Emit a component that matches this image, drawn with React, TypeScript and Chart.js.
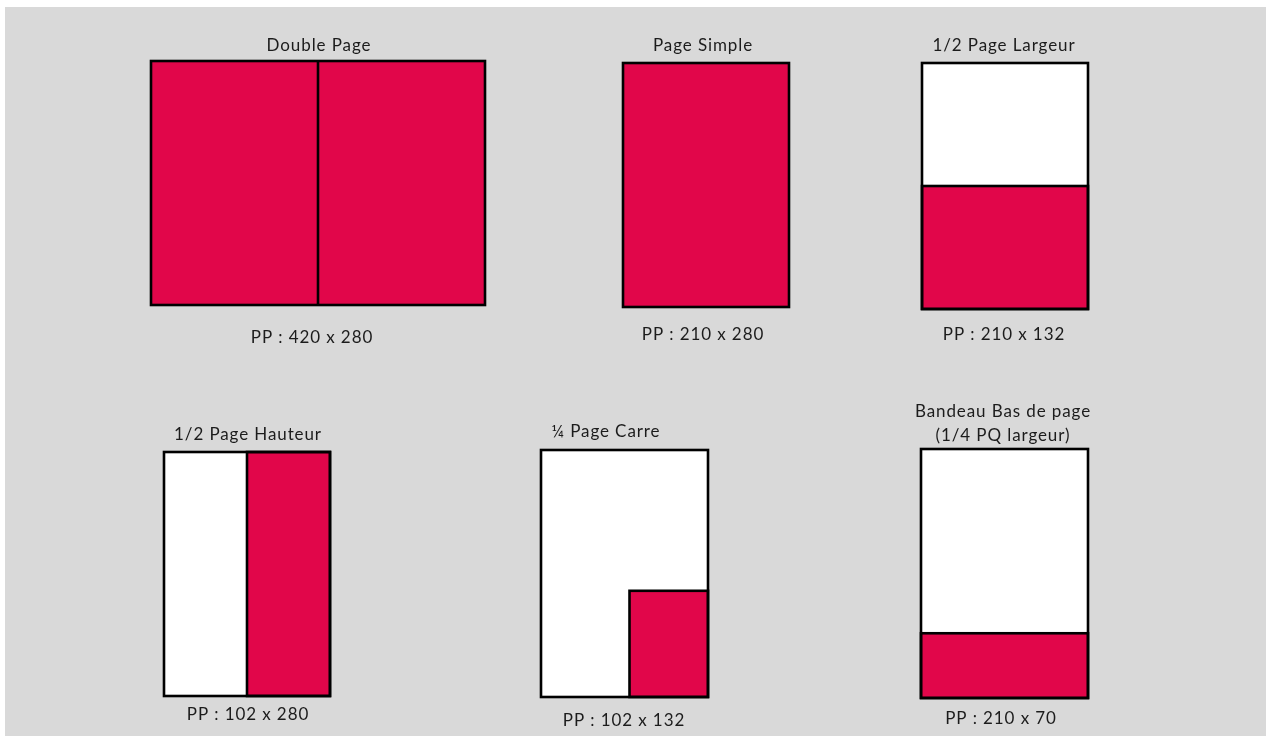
import React, { useEffect, useRef } from "react";
import { Chart, registerables } from "chart.js";

Chart.register(...registerables);

// ---- data ----
const formatTitles: string[][] = [
  ["Double Page"],
  ["Page Simple"],
  ["1/2 Page Largeur"],
  ["1/2 Page Hauteur"],
  ["¼ Page Carre"],
  ["Bandeau Bas de page", "(1/4 PQ largeur)"],
];
const formatWidthsMm = [420, 210, 210, 102, 102, 210];
const formatHeightsMm = [280, 280, 132, 280, 132, 70];
// share of the drawn sheet taken by the ad (anchored bottom-right)
const adWidthShare = [1, 1, 1, 0.5, 0.47, 1];
const adHeightShare = [1, 1, 0.5, 1, 0.43, 0.26];
// number of pages side by side in the drawn sheet
const pageCount = [2, 1, 1, 1, 1, 1];

// ---- layout (canvas units) ----
const W = 1269;
const H = 738;
const sheetBoxes = [
  [151, 61, 485, 305],
  [623, 63, 789, 307],
  [922, 63, 1088, 309],
  [164, 452, 330, 696],
  [541, 450, 708, 697],
  [921, 449, 1088, 698],
];
const titleX = [319, 703, 1004, 248, 606, 1003];
const titleBaseY = [51, 51, 51, 440, 437, 417];
const labelX = [312, 703, 1004, 248, 624, 1001];
const labelBaseY = [343, 340, 340, 720, 726, 724];

const BG = "#d9d9d9";
const RED = "#e1064a";
const TEXT = "#1c1c1c";
const FONT = "17px Lato, 'Open Sans', sans-serif";

const sheetsPlugin = {
  id: "sheets",
  beforeDraw(chart: any) {
    const { ctx, scales } = chart;
    const x = scales.x;
    const y = scales.y;
    ctx.save();
    ctx.fillStyle = "#ffffff";
    ctx.fillRect(0, 0, chart.width, chart.height);
    ctx.fillStyle = BG;
    const gx0 = x.getPixelForValue(5);
    const gx1 = x.getPixelForValue(1266);
    const gy0 = y.getPixelForValue(7);
    const gy1 = y.getPixelForValue(736);
    ctx.fillRect(gx0, gy0, gx1 - gx0, gy1 - gy0);
    ctx.restore();
  },
  afterDatasetsDraw(chart: any) {
    const { ctx, scales } = chart;
    const xs = scales.x;
    const ys = scales.y;
    ctx.save();
    formatTitles.forEach((title, i) => {
      const [bx0, by0, bx1, by1] = sheetBoxes[i];
      const x0 = xs.getPixelForValue(bx0);
      const x1 = xs.getPixelForValue(bx1);
      const y0 = ys.getPixelForValue(by0);
      const y1 = ys.getPixelForValue(by1);
      // sheet
      ctx.fillStyle = "#ffffff";
      ctx.fillRect(x0, y0, x1 - x0, y1 - y0);
      // ad area, anchored bottom-right
      const aw = (x1 - x0) * adWidthShare[i];
      const ah = (y1 - y0) * adHeightShare[i];
      ctx.fillStyle = RED;
      ctx.fillRect(x1 - aw, y1 - ah, aw, ah);
      ctx.strokeStyle = "#000000";
      ctx.lineWidth = 2.6;
      ctx.lineJoin = "miter";
      if (adWidthShare[i] < 1 || adHeightShare[i] < 1) {
        ctx.strokeRect(x1 - aw, y1 - ah, aw, ah);
      }
      // page dividers
      for (let p = 1; p < pageCount[i]; p++) {
        const dx = x0 + ((x1 - x0) * p) / pageCount[i];
        ctx.beginPath();
        ctx.moveTo(dx, y0);
        ctx.lineTo(dx, y1);
        ctx.stroke();
      }
      ctx.strokeRect(x0, y0, x1 - x0, y1 - y0);

      // texts
      ctx.fillStyle = TEXT;
      ctx.font = FONT;
      (ctx as any).letterSpacing = "0.9px";
      ctx.textAlign = "center";
      ctx.textBaseline = "alphabetic";
      const tx = xs.getPixelForValue(titleX[i]);
      title.forEach((line, k) => {
        const ty = ys.getPixelForValue(titleBaseY[i] + k * 24);
        ctx.fillText(line, tx, ty);
      });
      const label = `PP : ${formatWidthsMm[i]} x ${formatHeightsMm[i]}`;
      ctx.fillText(label, xs.getPixelForValue(labelX[i]), ys.getPixelForValue(labelBaseY[i]));
      (ctx as any).letterSpacing = "0px";
    });
    ctx.restore();
  },
};

export default function App() {
  const ref = useRef<HTMLCanvasElement | null>(null);
  useEffect(() => {
    if (!ref.current) return;
    const chart = new Chart(ref.current, {
      type: "scatter",
      data: {
        datasets: [
          {
            data: formatWidthsMm.map((_, i) => ({ x: sheetBoxes[i][0], y: sheetBoxes[i][1] })),
            pointRadius: 0,
            showLine: false,
          },
        ],
      },
      options: {
        responsive: false,
        animation: false,
        events: [],
        layout: { padding: 0 },
        plugins: { legend: { display: false }, tooltip: { enabled: false } },
        scales: {
          x: { type: "linear", min: 0, max: W, display: false },
          y: { type: "linear", min: 0, max: H, reverse: true, display: false },
        },
      },
      plugins: [sheetsPlugin],
    });
    return () => chart.destroy();
  }, []);
  return (
    <div style={{ position: "fixed", left: 0, top: 0, width: W, height: H }}>
      <canvas ref={ref} width={W} height={H} />
    </div>
  );
}
